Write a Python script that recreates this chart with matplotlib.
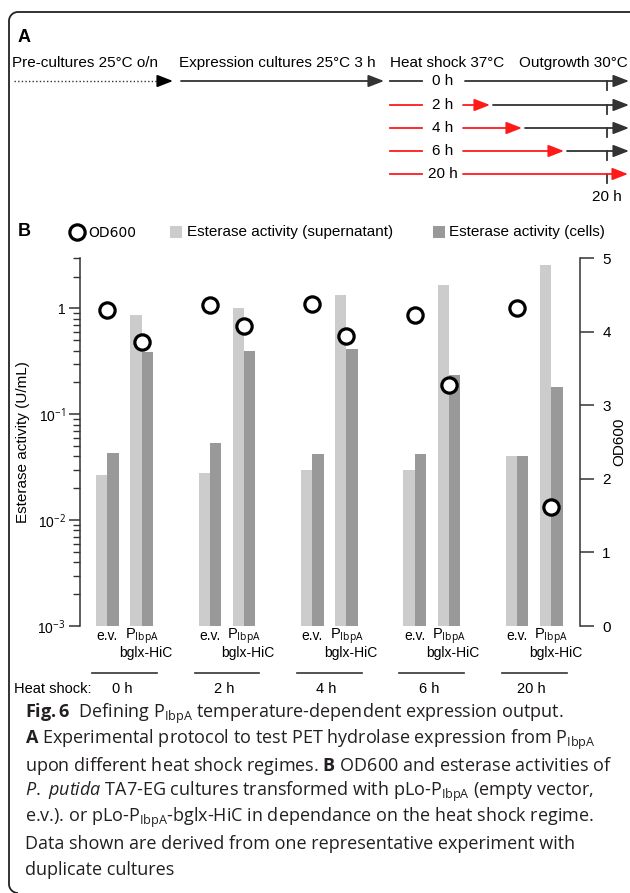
import matplotlib
matplotlib.use("Agg")
import matplotlib.pyplot as plt
import numpy as np
from matplotlib.patches import Rectangle
from matplotlib.ticker import FixedLocator, FuncFormatter, NullFormatter

plt.rcParams['font.family'] = ['Liberation Sans', 'DejaVu Sans']
plt.rcParams['mathtext.fontset'] = 'custom'
plt.rcParams['mathtext.rm'] = 'Open Sans'
plt.rcParams['mathtext.it'] = 'Open Sans:italic'
plt.rcParams['mathtext.bf'] = 'Open Sans:bold'

# ======================== data ========================
timepoints = ["0 h", "2 h", "4 h", "6 h", "20 h"]
sup_ev = [0.027, 0.028, 0.030, 0.030, 0.040]      # esterase, supernatant, e.v.
cells_ev = [0.043, 0.054, 0.042, 0.042, 0.040]    # esterase, cells, e.v.
sup_p = [0.86, 1.01, 1.34, 1.67, 2.60]            # esterase, supernatant, PIbpA
cells_p = [0.39, 0.40, 0.41, 0.235, 0.18]         # esterase, cells, PIbpA
od_ev = [4.29, 4.36, 4.37, 4.22, 4.32]
od_p = [3.86, 4.08, 3.94, 3.27, 1.62]

# schematic of panel A: heat shock rows, red arrow end (pixels, None = no heat shock)
hs_rows = ["0 h", "2 h", "4 h", "6 h", "20 h"]
hs_ends = [None, 490, 522, 564, 628]
hs_y = [81, 105, 128, 151, 174]

light = '#cccccc'
dark = '#999999'
ink = '#333333'
red = '#ff1a1a'

W, H = 630, 893
fig = plt.figure(figsize=(6.3, 8.93), dpi=100)
ov = fig.add_axes([0, 0, 1, 1])
ov.set_xlim(0, W)
ov.set_ylim(H, 0)
ov.axis('off')

# frame: top and left edges with rounded corners
r = 9
t = np.linspace(0, np.pi / 2, 20)
fx = np.concatenate([[640], 9 + r - r * np.sin(t), 9 + r - r * np.cos(t)])
fy_ = np.concatenate([[12], 12 + r - r * np.cos(t), 893 - r + r * np.sin(t)])
ov.plot(fx, fy_, color='#222222', lw=1.3, solid_capstyle='butt')

# ============================== panel A =====================================
ov.text(18, 38, "A", fontsize=13, fontweight='bold', va='center')
ov.text(12, 63, "Pre-cultures 25°C o/n", fontsize=11, va='center')
ov.text(179, 63, "Expression cultures 25°C 3 h", fontsize=11, va='center')
ov.text(390, 63, "Heat shock 37°C", fontsize=11, va='center')
ov.text(628, 63, "Outgrowth 30°C", fontsize=11, va='center', ha='right')


def arrow(x0, x1, y, color, hl=0.95):
    ov.annotate("", xy=(x1, y), xytext=(x0, y),
                arrowprops=dict(arrowstyle="-|>,head_length=%s,head_width=0.37" % hl,
                                lw=1.3, color=color, shrinkA=0, shrinkB=0))


ov.plot([14, 160], [81, 81], color=ink, lw=1.0, ls=(0, (1, 1.6)))
arrow(160, 173, 81, 'black')
arrow(181, 384, 81, ink)

for lab, end, y in zip(hs_rows, hs_ends, hs_y):
    stub = ink if end is None else red
    ov.plot([390, 422], [y, y], color=stub, lw=1.3)
    ov.text(443, y, lab, fontsize=11, ha='center', va='center')
    ov.plot([607, 607], [y, y + 9], color=ink, lw=1.3)
    if end is None:
        arrow(465, 629, y, ink)
    else:
        arrow(463, end, y, red)
        if end < 620:
            arrow(end + 3, 629, y, ink)
ov.text(607, 197, "20 h", fontsize=11, ha='center', va='center')

# ============================== panel B =====================================
ov.text(18, 232, "B", fontsize=13, fontweight='bold', va='center')
ov.plot([77], [232], 'o', ms=11, mfc='white', mec='black', mew=2.3)
ov.text(88, 233, "OD600", fontsize=10, va='center', family='DejaVu Sans')
ov.add_patch(Rectangle((170, 226), 12, 12, color=light, lw=0))
ov.text(187, 232, "Esterase activity (supernatant)", fontsize=11, va='center')
ov.add_patch(Rectangle((433, 226), 12, 12, color=dark, lw=0))
ov.text(449, 232, "Esterase activity (cells)", fontsize=11, va='center')

x0, x1, ytop, ybot = 79.5, 580.0, 258.0, 626.0
ax = fig.add_axes([x0 / W, 1 - ybot / H, (x1 - x0) / W, (ybot - ytop) / H])
ax.patch.set_visible(False)
ax.set_yscale('log')

x_ev = np.arange(len(timepoints)) * 3.0
x_p = x_ev + 1.0
bw = 0.33
ax.bar(x_ev - bw / 2, np.array(sup_ev) - 1e-3, bw, bottom=1e-3, color=light)
ax.bar(x_ev + bw / 2, np.array(cells_ev) - 1e-3, bw, bottom=1e-3, color=dark)
ax.bar(x_p - bw / 2, np.array(sup_p) - 1e-3, bw, bottom=1e-3, color=light)
ax.bar(x_p + bw / 2, np.array(cells_p) - 1e-3, bw, bottom=1e-3, color=dark)
ax.set_ylim(1e-3, 3)
ax.set_xlim(-0.82, 13.84)
ax.set_xticks([])

for s in ['top', 'bottom', 'right']:
    ax.spines[s].set_visible(False)
ax.spines['left'].set_color(ink)
ax.spines['left'].set_linewidth(1.1)
ax.yaxis.set_major_locator(FixedLocator([1e-3, 1e-2, 1e-1, 1]))
ax.yaxis.set_minor_locator(FixedLocator([m * 10.0 ** e for e in range(-3, 1) for m in range(2, 10)
                                         if m * 10.0 ** e <= 3]))
ax.yaxis.set_minor_formatter(NullFormatter())
ax.yaxis.set_major_formatter(FuncFormatter(
    lambda v, p: "1" if v == 1 else "10$^{%d}$" % round(np.log10(v))))
ax.tick_params(axis='y', which='major', length=8, width=1.1, color=ink, labelsize=10, pad=2)
ax.tick_params(axis='y', which='minor', length=5, width=1.0, color=ink)
ax.set_ylabel("Esterase activity (U/mL)", fontsize=11)
ax.yaxis.set_label_coords((30 - x0) / (x1 - x0), 0.5)

ax2 = ax.twinx()
ax2.set_ylim(0, 5)
for s in ['top', 'bottom', 'left']:
    ax2.spines[s].set_visible(False)
ax2.spines['right'].set_color(ink)
ax2.spines['right'].set_linewidth(1.1)
ax2.set_yticks([0, 1, 2, 3, 4, 5])
ax2.tick_params(axis='y', length=10, width=1.1, color=ink, labelsize=11, pad=6)
ax2.set_ylabel("OD600", fontsize=11)
ax2.yaxis.set_label_coords((612 - x0) / (x1 - x0), 0.5)
ax2.plot(x_ev, od_ev, 'o', ls='none', ms=11, mfc='white', mec='black', mew=2.3, clip_on=False)
ax2.plot(x_p, od_p, 'o', ls='none', ms=11, mfc='white', mec='black', mew=2.3, clip_on=False)


def fy(ypix):
    return (ybot - ypix) / (ybot - ytop)


tr = ax.get_xaxis_transform()
for i, tp in enumerate(timepoints):
    ax.text(x_ev[i], fy(636), "e.v.", fontsize=10, ha='center', va='center', transform=tr)
    ax.text(x_p[i], fy(636), r"P$_{\mathrm{IbpA}}$", fontsize=10.5, ha='center', va='center',
            transform=tr)
    ax.text(x_p[i] + 0.12, fy(653), "bglx-HiC", fontsize=10, ha='center', va='center', transform=tr)
    c = (x_ev[i] + x_p[i]) / 2
    ax.plot([c - 0.95, c + 0.95], [fy(673)] * 2, color=ink, lw=1.2, transform=tr, clip_on=False)
    ax.text(c - 0.08, fy(689), tp, fontsize=10.5, ha='center', va='center', transform=tr)
ov.text(14, 689, "Heat shock:", fontsize=10.5, va='center')

# ============================== caption =====================================
cap = [
    r"$\mathbf{Fig.6}$  Defining P$_{\mathrm{IbpA}}$ temperature-dependent expression output.",
    r"$\mathbf{A}$ Experimental protocol to test PET hydrolase expression from P$_{\mathrm{IbpA}}$",
    r"upon different heat shock regimes. $\mathbf{B}$ OD600 and esterase activities of",
    r"$\mathit{P.\ putida}$ TA7-EG cultures transformed with pLo-P$_{\mathrm{IbpA}}$ (empty vector,",
    r"e.v.). or pLo-P$_{\mathrm{IbpA}}$-bglx-HiC in dependance on the heat shock regime.",
    r"Data shown are derived from one representative experiment with",
    r"duplicate cultures",
]
for k, line in enumerate(cap):
    ov.text(25, 714 + 26 * k, line, fontsize=13, family='Open Sans', color='#231f20',
            va='center')

fig.savefig("out.png", dpi=100)
